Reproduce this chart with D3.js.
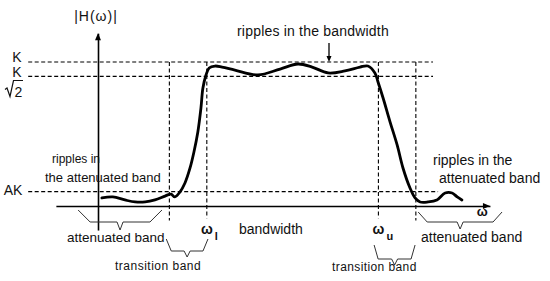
<!DOCTYPE html>
<html>
<head>
<meta charset="utf-8">
<script src="https://cdn.jsdelivr.net/npm/d3@7"></script>
<style>
body { margin: 0; background: #fff; }
text { font-family: "Liberation Sans", Arial, sans-serif; fill: #111; }
.dash { stroke: #000; stroke-width: 1.1; stroke-dasharray: 4,2.5; fill: none; }
.brace { stroke: #333; stroke-width: 1; fill: none; }
.axis path { stroke: #000; stroke-width: 1.6; }
</style>
</head>
<body>
<div id="chart"></div>
<script>
// filter response (omega in arbitrary units, gain relative to K)
var omega = [0.10, 0.38, 0.69, 0.95, 1.21, 1.46, 1.72, 1.87, 1.97, 2.10, 2.23, 2.36, 2.46, 2.56, 2.64, 2.69, 2.77, 2.85,
    3.00, 3.18, 3.51, 4.10, 4.67, 5.13, 5.49, 5.90, 6.33, 6.72, 6.92, 7.10, 7.18, 7.31, 7.49, 7.67, 7.82, 8.00,
    8.13, 8.26, 8.46, 8.69, 8.90, 9.08, 9.21, 9.33];
var gain = [0.056, 0.063, 0.042, 0.028, 0.028, 0.042, 0.069, 0.083, 0.063, 0.097, 0.160, 0.264, 0.375, 0.514, 0.681, 0.819, 0.910, 0.958,
    0.972, 0.965, 0.944, 0.910, 0.951, 0.986, 0.965, 0.924, 0.938, 0.965, 0.972, 0.924, 0.861, 0.750, 0.583, 0.424, 0.264, 0.125,
    0.056, 0.028, 0.028, 0.042, 0.090, 0.090, 0.063, 0.042];

// reference levels on the |H| axis: K, K/sqrt2, AK
var levelValues = [1, 0.9, 0.1];
var levelLabels = ["K", "K/√2", "AK"];

// band edges: end of lower stop band, omega_l, omega_u, start of upper stop band
var edgeValues = [1.83, 2.79, 7.19, 8.15];
var edgeSubs = ["", "l", "u", ""];

var w = 550, h = 281;

var svg = d3.select("#chart")
    .append("svg")
    .attr("width", w)
    .attr("height", h);

//scale functions
var xScale = d3.scaleLinear()
    .domain([0, 10])
    .range([98, 488]);
var yScale = d3.scaleLinear()
    .domain([0, 1])
    .range([206, 62]);

// axes run a bit past the plotted range
var xAxisScale = d3.scaleLinear().domain([-1.08, 10.05]).range([xScale(-1.08), xScale(10.05)]);
var yAxisScale = d3.scaleLinear().domain([-0.167, 1.2]).range([yScale(-0.167), yScale(1.2)]);
var xAxis = d3.axisBottom(xAxisScale).ticks(0).tickSize(0);
var yAxis = d3.axisLeft(yAxisScale).ticks(0).tickSize(0);

svg.append("g")
    .attr("class", "axis")
    .attr("transform", "translate(0," + yScale(0) + ")")
    .call(xAxis);
svg.append("g")
    .attr("class", "axis")
    .attr("transform", "translate(" + xScale(0) + ",0)")
    .call(yAxis);

// arrow tips on axes
svg.append("path")
    .attr("transform", "translate(" + xScale(10.05) + "," + yScale(0) + ")")
    .attr("d", "M0,0 L-7,-3 L-7,3 Z");
svg.append("path")
    .attr("transform", "translate(" + xScale(0) + "," + yScale(1.2) + ") rotate(-90)")
    .attr("d", "M0,0 L-7,-3 L-7,3 Z");

// horizontal dashed levels
var levelEnds = [8.59, 8.59, 8.72];
levelValues.forEach(function(v, i) {
    svg.append("line")
        .attr("class", "dash")
        .attr("x1", xScale(-1.79))
        .attr("x2", xScale(levelEnds[i]))
        .attr("y1", yScale(v))
        .attr("y2", yScale(v));
});

// vertical dashed band edges
var edgeBottoms = [-0.1, -0.085, -0.085, -0.1];
edgeValues.forEach(function(v, i) {
    svg.append("line")
        .attr("class", "dash")
        .attr("x1", xScale(v))
        .attr("x2", xScale(v))
        .attr("y1", yScale(levelValues[0]))
        .attr("y2", yScale(edgeBottoms[i]));
});

// level labels
svg.append("text")
    .attr("x", 17).attr("y", yScale(levelValues[0]) - 0.5)
    .attr("text-anchor", "middle")
    .style("font-size", "14px")
    .text(levelLabels[0]);
svg.append("text")
    .attr("x", 17).attr("y", yScale(levelValues[1]) + 1)
    .attr("text-anchor", "middle")
    .style("font-size", "14px")
    .text("K");
svg.append("path")
    .attr("d", "M5,89.5 L7,88 L10,96.5 L13.5,80.5 L23,80.5")
    .attr("fill", "none")
    .attr("stroke", "#111")
    .attr("stroke-width", 1.2);
svg.append("text")
    .attr("x", 18.5).attr("y", 96.5)
    .attr("text-anchor", "middle")
    .style("font-size", "14px")
    .text("2");
svg.append("text")
    .attr("x", 13).attr("y", yScale(levelValues[2]) + 3)
    .attr("text-anchor", "middle")
    .style("font-size", "14px")
    .text(levelLabels[2]);

// y axis title
svg.append("text")
    .attr("x", xScale(0) - 2).attr("y", 21)
    .attr("text-anchor", "middle")
    .style("font-size", "14px")
    .style("letter-spacing", "1px")
    .text("|H(ω)|");

// omega labels at the band edges
[1, 2].forEach(function(i) {
    var g = svg.append("g")
        .attr("transform", "translate(" + xScale(edgeValues[i]) + "," + 234 + ")");
    g.append("text")
        .attr("x", 0)
        .attr("text-anchor", "middle")
        .style("font-size", "14px")
        .style("font-weight", "bold")
        .text("ω");
    g.append("text")
        .attr("x", 8).attr("y", 6)
        .style("font-size", "11px")
        .style("font-weight", "bold")
        .text(edgeSubs[i]);
});
svg.append("text")
    .attr("x", xScale(9.85)).attr("y", 216)
    .attr("text-anchor", "middle")
    .style("font-size", "13px")
    .style("font-weight", "bold")
    .text("ω");

// the response curve
var line = d3.line()
    .x(function(d) { return xScale(d[0]); })
    .y(function(d) { return yScale(d[1]); })
    .curve(d3.curveCatmullRom.alpha(0.5));

svg.append("path")
    .datum(d3.zip(omega, gain))
    .attr("d", line)
    .attr("fill", "none")
    .attr("stroke", "#000")
    .attr("stroke-width", 2.8)
    .attr("stroke-linecap", "round");

// curly-ish braces under the bands
function brace(x0, x1, y0, drop, slant, tip) {
    var yb = y0 + drop, mid = (x0 + x1) / 2;
    return "M" + x0 + "," + y0 + " L" + (x0 + slant) + "," + yb + " L" + (mid - 3) + "," + yb +
        " L" + mid + "," + (yb + tip) + " L" + (mid + 3) + "," + yb + " L" + (x1 - slant) + "," + yb +
        " L" + x1 + "," + y0;
}
svg.append("path").attr("class", "brace").attr("d", brace(xScale(-0.51), xScale(1.64), 210, 12, 12, 8));
svg.append("path").attr("class", "brace").attr("d", brace(xScale(1.75), xScale(2.82), 239, 12, 5, 6));
svg.append("path").attr("class", "brace").attr("d", brace(xScale(7.08), xScale(8.13), 245, 14, 4, 6));
svg.append("path").attr("class", "brace").attr("d", brace(xScale(8.21), xScale(10.36), 212, 10, 9, 7));

// annotations
function note(x, y, size, str) {
    return svg.append("text")
        .attr("x", x).attr("y", y)
        .style("font-size", size + "px")
        .text(str);
}
note(237, 36, 14, "ripples  in the bandwidth").style("letter-spacing", "0.2px");
note(52, 163, 12, "ripples in");
note(45, 182, 13, "the attenuated band");
note(67, 242, 13.5, "attenuated band");
note(115, 270, 12, "transition band").style("letter-spacing", "0.5px");
note(239, 234, 14, "bandwidth");
note(332, 271, 12, "transition band").style("letter-spacing", "0.4px");
note(433, 165, 14, "ripples in the");
note(439, 183, 14, "attenuated band");
note(421, 242, 14, "attenuated band");

// arrow pointing at the ripples
svg.append("line")
    .attr("x1", 329).attr("x2", 329)
    .attr("y1", 43).attr("y2", 57)
    .attr("stroke", "#000").attr("stroke-width", 1.3);
svg.append("path")
    .attr("transform", "translate(329,62) rotate(90)")
    .attr("d", "M0,0 L-6,-2.5 L-6,2.5 Z");
</script>
</body>
</html>
